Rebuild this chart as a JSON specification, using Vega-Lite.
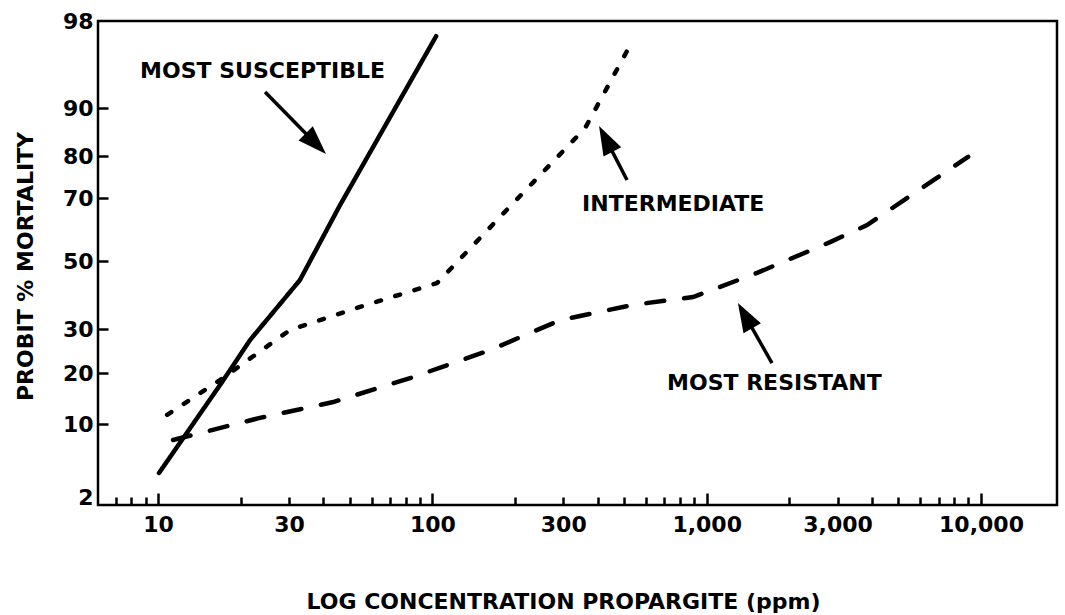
{
  "$schema": "https://vega.github.io/schema/vega-lite/v6.json",
  "width": 959,
  "height": 484,
  "autosize": {"type": "none"},
  "padding": {"left": 98, "top": 21, "right": 8, "bottom": 110},
  "background": "white",
  "config": {
    "font": "DejaVu Sans",
    "view": {"stroke": "black", "strokeWidth": 2.5}
  },
  "data": {
    "values": [
      {"kind": "curve", "group": "Most susceptible", "ppm": 10.08, "mortality": 4.63},
      {"kind": "curve", "group": "Most susceptible", "ppm": 17.12, "mortality": 18.24},
      {"kind": "curve", "group": "Most susceptible", "ppm": 21.65, "mortality": 27.5},
      {"kind": "curve", "group": "Most susceptible", "ppm": 32.9, "mortality": 44.4},
      {"kind": "curve", "group": "Most susceptible", "ppm": 46.1, "mortality": 67.8},
      {"kind": "curve", "group": "Most susceptible", "ppm": 103.2, "mortality": 96.6},
      {"kind": "curve", "group": "Intermediate", "ppm": 10.79, "mortality": 11.8},
      {"kind": "curve", "group": "Intermediate", "ppm": 16.8, "mortality": 18.6},
      {"kind": "curve", "group": "Intermediate", "ppm": 30.3, "mortality": 29.8},
      {"kind": "curve", "group": "Intermediate", "ppm": 54.5, "mortality": 36.5},
      {"kind": "curve", "group": "Intermediate", "ppm": 104.0, "mortality": 43.5},
      {"kind": "curve", "group": "Intermediate", "ppm": 176.5, "mortality": 64.0},
      {"kind": "curve", "group": "Intermediate", "ppm": 360.3, "mortality": 85.8},
      {"kind": "curve", "group": "Intermediate", "ppm": 534.6, "mortality": 96.1},
      {"kind": "curve", "group": "Most resistant", "ppm": 11.34, "mortality": 8.25},
      {"kind": "curve", "group": "Most resistant", "ppm": 23.5, "mortality": 11.2},
      {"kind": "curve", "group": "Most resistant", "ppm": 43.5, "mortality": 14.3},
      {"kind": "curve", "group": "Most resistant", "ppm": 85.1, "mortality": 19.2},
      {"kind": "curve", "group": "Most resistant", "ppm": 162.3, "mortality": 25.2},
      {"kind": "curve", "group": "Most resistant", "ppm": 292.2, "mortality": 32.6},
      {"kind": "curve", "group": "Most resistant", "ppm": 539.1, "mortality": 37.1},
      {"kind": "curve", "group": "Most resistant", "ppm": 892.1, "mortality": 39.4},
      {"kind": "curve", "group": "Most resistant", "ppm": 1527, "mortality": 46.5},
      {"kind": "curve", "group": "Most resistant", "ppm": 2818, "mortality": 56.0},
      {"kind": "curve", "group": "Most resistant", "ppm": 3843, "mortality": 61.4},
      {"kind": "curve", "group": "Most resistant", "ppm": 8974, "mortality": 79.8},
      {"kind": "arrow", "label": "MOST SUSCEPTIBLE", "ppm": 24.55, "mortality": 91.47, "ppm2": 37.6, "mortality2": 82.56},
      {"kind": "arrow", "label": "INTERMEDIATE", "ppm": 512.3, "mortality": 74.29, "ppm2": 428.5, "mortality2": 83.56},
      {"kind": "arrow", "label": "MOST RESISTANT", "ppm": 1730, "mortality": 22.27, "ppm2": 1380, "mortality2": 33.94},
      {"kind": "head", "label": "MOST SUSCEPTIBLE", "ppm": 37.6, "mortality": 82.56},
      {"kind": "head", "label": "INTERMEDIATE", "ppm": 428.5, "mortality": 83.56},
      {"kind": "head", "label": "MOST RESISTANT", "ppm": 1380, "mortality": 33.94},
      {"kind": "note", "text": "MOST SUSCEPTIBLE", "ppm": 8.6, "mortality": 93.4},
      {"kind": "note", "text": "INTERMEDIATE", "ppm": 351.3, "mortality": 68.1},
      {"kind": "note", "text": "MOST RESISTANT", "ppm": 717, "mortality": 18.0}
    ]
  },
  "encoding": {
    "x": {
      "field": "ppm",
      "type": "quantitative",
      "scale": {"type": "log", "domain": [6.04, 18925], "nice": false},
      "axis": {
        "values": [7, 8, 9, 10, 20, 30, 40, 50, 60, 70, 80, 90, 100, 200, 300, 400, 500, 600, 700, 800, 900, 1000, 2000, 3000, 4000, 5000, 6000, 7000, 8000, 9000, 10000],
        "labelExpr": "(datum.value == 10 || datum.value == 30 || datum.value == 100 || datum.value == 300 || datum.value == 1000 || datum.value == 3000 || datum.value == 10000) ? format(datum.value, ',') : ''",
        "domain": false,
        "grid": false,
        "tickSize": {"condition": {"test": "datum.value == 10 || datum.value == 100 || datum.value == 1000 || datum.value == 10000", "value": -12}, "value": -8},
        "tickWidth": 2.5,
        "tickColor": "black",
        "labelFont": "DejaVu Sans",
        "labelFontSize": 22,
        "labelFontWeight": "bold",
        "labelColor": "black",
        "labelPadding": {"condition": {"test": "datum.value == 10 || datum.value == 100 || datum.value == 1000 || datum.value == 10000", "value": 21}, "value": 17},
        "labelOverlap": false,
        "labelFlush": false,
        "title": "LOG CONCENTRATION PROPARGITE (ppm)",
        "titleFont": "DejaVu Sans",
        "titleFontSize": 22,
        "titleFontWeight": "bold",
        "titleColor": "black",
        "titleX": 465,
        "titleY": 103,
        "titleAlign": "center",
        "titleBaseline": "alphabetic"
      }
    },
    "y": {
      "field": "mortality",
      "type": "quantitative",
      "scale": {
        "type": "linear",
        "domain": [1, 2, 10, 20, 30, 50, 70, 80, 90, 98],
        "range": [484, 476, 403, 352, 308, 240, 177, 135, 87, 0],
        "nice": false,
        "zero": false
      },
      "axis": {
        "values": [2, 10, 20, 30, 50, 70, 80, 90, 98],
        "domain": false,
        "grid": false,
        "tickSize": -10,
        "tickWidth": 2.5,
        "tickColor": "black",
        "tickOpacity": {"condition": {"test": "datum.value == 2 || datum.value == 98", "value": 0}, "value": 1},
        "labelFont": "DejaVu Sans",
        "labelFontSize": 22,
        "labelFontWeight": "bold",
        "labelColor": "black",
        "labelPadding": 15,
        "labelBaseline": "middle",
        "labelOverlap": false,
        "labelFlush": false,
        "title": "PROBIT % MORTALITY",
        "titleFont": "DejaVu Sans",
        "titleFontSize": 22,
        "titleFontWeight": "bold",
        "titleColor": "black",
        "titleAngle": 270,
        "titleX": -66,
        "titleY": 245,
        "titleAlign": "center",
        "titleBaseline": "alphabetic"
      }
    }
  },
  "layer": [
    {
      "transform": [{"filter": "datum.kind == 'curve'"}],
      "mark": {"type": "line", "strokeWidth": 4.5, "strokeCap": "round", "color": "black"},
      "encoding": {
        "strokeDash": {
          "field": "group",
          "type": "nominal",
          "scale": {"domain": ["Most susceptible", "Intermediate", "Most resistant"], "range": [[1, 0], [5, 15], [18, 20]]},
          "legend": null
        }
      }
    },
    {
      "transform": [{"filter": "datum.kind == 'arrow'"}],
      "mark": {"type": "rule", "strokeWidth": 3.5, "color": "black"},
      "encoding": {
        "x2": {"field": "ppm2"},
        "y2": {"field": "mortality2"}
      }
    },
    {
      "transform": [{"filter": "datum.kind == 'head' && datum.label == 'MOST SUSCEPTIBLE'"}],
      "mark": {"type": "point", "shape": "M0,-1L0.69,1L-0.69,1Z", "size": 841, "filled": true, "color": "black", "opacity": 1, "strokeWidth": 0, "angle": 135.5}
    },
    {
      "transform": [{"filter": "datum.kind == 'head' && datum.label == 'INTERMEDIATE'"}],
      "mark": {"type": "point", "shape": "M0,-1L0.69,1L-0.69,1Z", "size": 841, "filled": true, "color": "black", "opacity": 1, "strokeWidth": 0, "angle": 332.6}
    },
    {
      "transform": [{"filter": "datum.kind == 'head' && datum.label == 'MOST RESISTANT'"}],
      "mark": {"type": "point", "shape": "M0,-1L0.69,1L-0.69,1Z", "size": 841, "filled": true, "color": "black", "opacity": 1, "strokeWidth": 0, "angle": 330.5}
    },
    {
      "transform": [{"filter": "datum.kind == 'note'"}],
      "mark": {"type": "text", "align": "left", "baseline": "middle", "font": "DejaVu Sans", "fontSize": 22, "fontWeight": "bold", "color": "black"},
      "encoding": {
        "text": {"field": "text", "type": "nominal"}
      }
    }
  ]
}
